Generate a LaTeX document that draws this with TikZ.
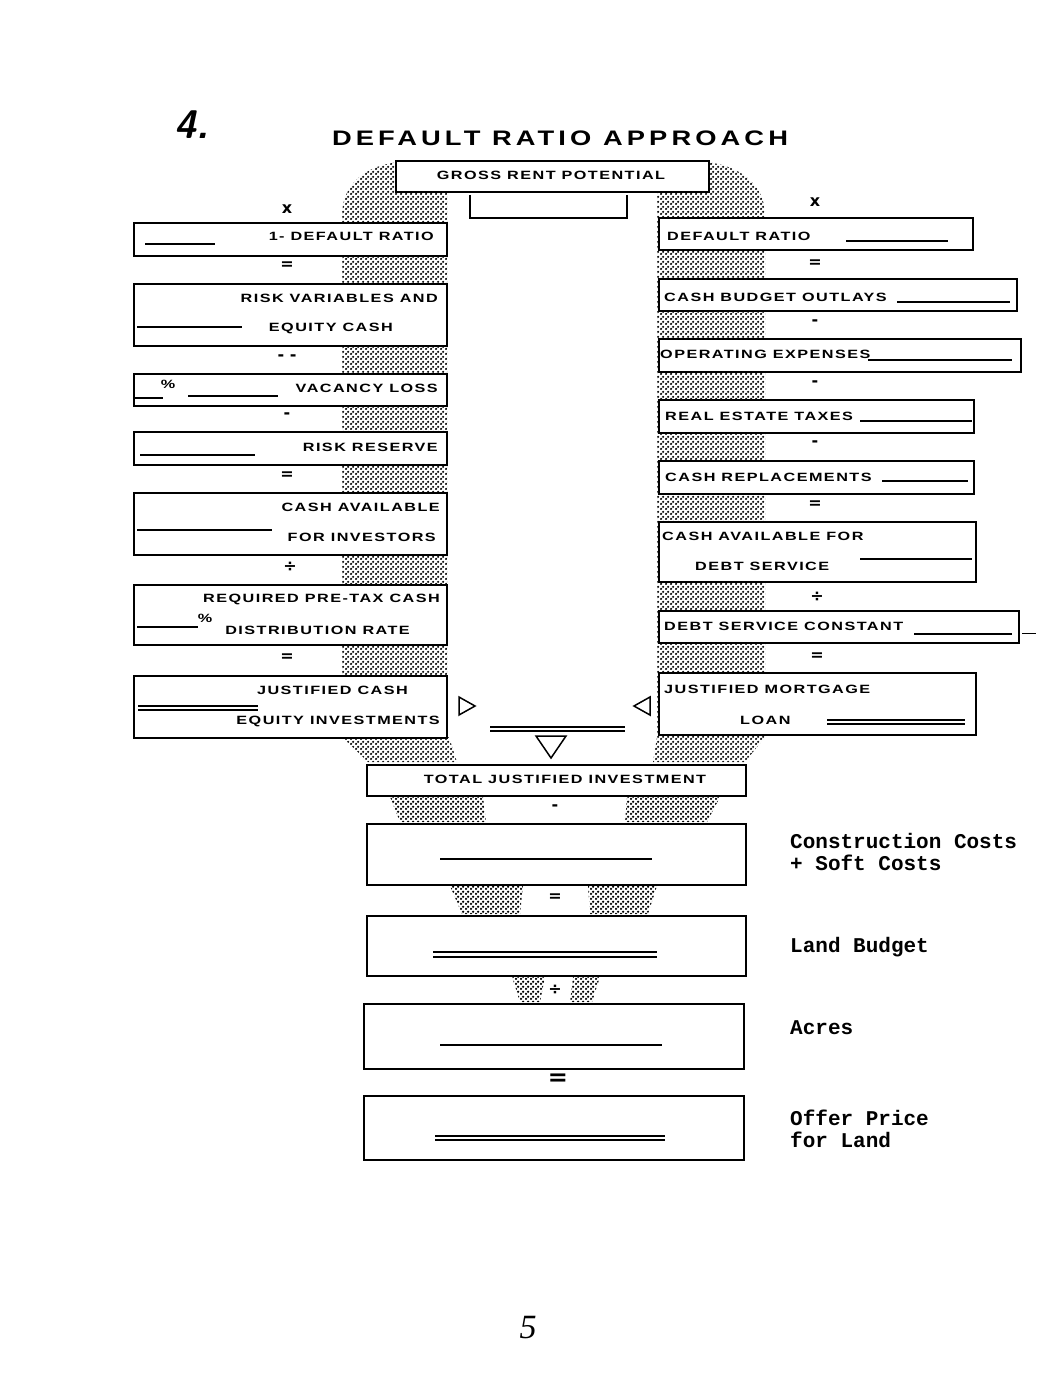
\documentclass[tikz,border=0pt]{standalone}
\usepackage{fontspec}
\usepackage{graphicx}
\setmainfont{Liberation Serif}
\usetikzlibrary{patterns.meta}
\newfontfamily\boxfont{Liberation Sans}[LetterSpace=9]
\newfontfamily\titlefont{Liberation Sans}[LetterSpace=15]
\newfontfamily\typefont{Liberation Mono}
\newfontfamily\opfont{DejaVu Sans}
\newcommand{\bt}[1]{\scalebox{1.35}[1]{\boxfont\bfseries\fontsize{12}{13}\selectfont #1}}
\tikzdeclarepattern{
  name=stip, type=uncolored,
  bounding box={(0pt,0pt) and (5pt,5pt)},
  tile size={(5pt,5pt)},
  code={\fill (1.25pt,1.25pt) circle (1.45pt); \fill (3.75pt,3.75pt) circle (1.45pt);}
}
\tikzset{
  bx/.style={draw=black, line width=2pt, fill=white, anchor=north west, inner sep=0pt},
  lab/.style={inner sep=0pt},
  op/.style={font=\opfont\bfseries\fontsize{16}{18}\selectfont, inner sep=0pt},
  side/.style={font=\typefont\bfseries\fontsize{21}{22}\selectfont, inner sep=0pt, anchor=west, align=left},
  blank/.style={line width=1.6pt},
  stipple/.style={pattern={stip}, pattern color=black}
}
\begin{document}
\begin{tikzpicture}[x=1pt,y=-1pt]
\fill[white] (0,0) rectangle (1064,1380);
\useasboundingbox (0,0) rectangle (1064,1380);

% stippled funnel
\path[stipple] (400,162) .. controls (365,165) and (342,185) .. (342,215) -- (342,737) -- (368,762) -- (457,762) -- (449,737) -- (447,737) -- (447,162) -- cycle;
\path[stipple] (705,162) .. controls (740,165) and (765,185) .. (765,215) -- (765,737) -- (745,762) -- (653,762) -- (657,737) -- (657,162) -- cycle;
\path[stipple] (390,797) -- (483,797) -- (486,822) -- (400,822) -- cycle;
\path[stipple] (627,797) -- (720,797) -- (707,822) -- (625,822) -- cycle;
\path[stipple] (450,886) -- (523,886) -- (520,914) -- (462,914) -- cycle;
\path[stipple] (588,886) -- (657,886) -- (648,914) -- (590,914) -- cycle;
\path[stipple] (512,977) -- (545,977) -- (540,1002) -- (520,1002) -- cycle;
\path[stipple] (573,977) -- (600,977) -- (592,1002) -- (570,1002) -- cycle;

% heading
\node[font=\sffamily\itshape\bfseries\fontsize{40}{40}\selectfont, inner sep=0pt] (num) at (192,125) {4.};
\node[inner sep=0pt] (title) at (560,138) {\scalebox{1.3}[1]{\titlefont\bfseries\fontsize{21}{24}\selectfont DEFAULT RATIO APPROACH}};

% gross rent
\node[bx, minimum width=313pt, minimum height=31pt] (gr) at (395,160) {};
\node[lab] (grt) at (551,175) {\bt{GROSS RENT POTENTIAL}};
\draw[line width=1.6pt] (470,195) -- (470,218) -- (627,218) -- (627,195);

% ---------- left column ----------
\node[op] (lx) at (287,209) {x};
\node[bx, minimum width=313pt, minimum height=33pt] (L1) at (133,222) {};
\node[lab, anchor=east] (L1t) at (434,236) {\bt{1- DEFAULT RATIO}};
\draw[blank] (145,244) -- (215,244);
\node[op] (le1) at (287,266) {=};
\node[bx, minimum width=313pt, minimum height=62pt] (L2) at (133,283) {};
\node[lab, anchor=east] (L2a) at (438,298) {\bt{RISK VARIABLES AND}};
\node[lab, anchor=east] (L2b) at (393,328) {\bt{EQUITY CASH}};
\draw[blank] (137,327) -- (242,327);
\node[op] (lm1) at (287,358) {- -};
\node[bx, minimum width=313pt, minimum height=32pt] (L3) at (133,373) {};
\node[lab, anchor=east] (L3t) at (438,388) {\bt{VACANCY LOSS}};
\node[lab] (L3p) at (168,384) {\bt{\%}};
\draw[blank] (135,398) -- (163,398);
\draw[blank] (188,396) -- (278,396);
\node[op] (lm2) at (287,416) {-};
\node[bx, minimum width=313pt, minimum height=33pt] (L4) at (133,431) {};
\node[lab, anchor=east] (L4t) at (438,447) {\bt{RISK RESERVE}};
\draw[blank] (140,455) -- (255,455);
\node[op] (le2) at (287,476) {=};
\node[bx, minimum width=313pt, minimum height=62pt] (L5) at (133,492) {};
\node[lab, anchor=east] (L5a) at (440,507) {\bt{CASH AVAILABLE}};
\node[lab, anchor=east] (L5b) at (436,537) {\bt{FOR INVESTORS}};
\draw[blank] (137,530) -- (272,530);
\node[op] (ld1) at (290,567) {÷};
\node[bx, minimum width=313pt, minimum height=60pt] (L6) at (133,584) {};
\node[lab, anchor=east] (L6a) at (440,599) {\bt{REQUIRED PRE-TAX CASH}};
\node[lab] (L6p) at (205,618) {\bt{\%}};
\node[lab, anchor=east] (L6b) at (410,630) {\bt{DISTRIBUTION RATE}};
\draw[blank] (137,627) -- (198,627);
\node[op] (le3) at (287,658) {=};
\node[bx, minimum width=313pt, minimum height=62pt] (L7) at (133,675) {};
\node[lab, anchor=east] (L7a) at (408,690) {\bt{JUSTIFIED CASH}};
\node[lab, anchor=east] (L7b) at (440,721) {\bt{EQUITY INVESTMENTS}};
\draw[line width=1.2pt] (138,706) -- (258,706);
\draw[line width=1.2pt] (138,710) -- (258,710);

% ---------- right column ----------
\node[op] (rx) at (815,202) {x};
\node[bx, minimum width=314pt, minimum height=32pt] (R1) at (658,217) {};
\node[lab, anchor=west] (R1t) at (667,236) {\bt{DEFAULT RATIO}};
\draw[blank] (846,241) -- (948,241);
\node[op] (re1) at (815,264) {=};
\node[bx, minimum width=358pt, minimum height=32pt] (R2) at (658,278) {};
\node[lab, anchor=west] (R2t) at (664,297) {\bt{CASH BUDGET OUTLAYS}};
\draw[blank] (897,302) -- (1010,302);
\node[op] (rm1) at (815,323) {-};
\node[bx, minimum width=362pt, minimum height=33pt] (R3) at (658,338) {};
\node[lab, anchor=west] (R3t) at (660,354) {\bt{OPERATING EXPENSES}};
\draw[blank] (868,360) -- (1012,360);
\node[op] (rm2) at (815,384) {-};
\node[bx, minimum width=315pt, minimum height=33pt] (R4) at (658,399) {};
\node[lab, anchor=west] (R4t) at (665,416) {\bt{REAL ESTATE TAXES}};
\draw[blank] (860,421) -- (972,421);
\node[op] (rm3) at (815,444) {-};
\node[bx, minimum width=315pt, minimum height=33pt] (R5) at (658,460) {};
\node[lab, anchor=west] (R5t) at (665,477) {\bt{CASH REPLACEMENTS}};
\draw[blank] (882,481) -- (968,481);
\node[op] (re2) at (815,505) {=};
\node[bx, minimum width=317pt, minimum height=60pt] (R6) at (658,521) {};
\node[lab, anchor=west] (R6a) at (662,536) {\bt{CASH AVAILABLE FOR}};
\node[lab, anchor=west] (R6b) at (695,566) {\bt{DEBT SERVICE}};
\draw[blank] (860,559) -- (972,559);
\node[op] (rd1) at (817,597) {÷};
\node[bx, minimum width=360pt, minimum height=32pt] (R7) at (658,610) {};
\node[lab, anchor=west] (R7t) at (664,626) {\bt{DEBT SERVICE CONSTANT}};
\draw[blank] (914,634) -- (1012,634);
\draw[line width=1pt] (1022,633) -- (1036,633);
\node[op] (re3) at (817,657) {=};
\node[bx, minimum width=317pt, minimum height=62pt] (R8) at (658,672) {};
\node[lab, anchor=west] (R8a) at (664,689) {\bt{JUSTIFIED MORTGAGE}};
\node[lab, anchor=west] (R8b) at (740,720) {\bt{LOAN}};
\draw[line width=1.2pt] (827,720) -- (965,720);
\draw[line width=1.2pt] (827,724) -- (965,724);

% ---------- centre ----------
\draw[line width=1.5pt] (459,697) -- (475,706) -- (459,715) -- cycle;
\draw[line width=1.5pt] (650,697) -- (634,706) -- (650,715) -- cycle;
\draw[line width=1.2pt] (490,727) -- (625,727);
\draw[line width=1.2pt] (490,731) -- (625,731);
\draw[line width=1.5pt] (536,736) -- (566,736) -- (551,758) -- cycle;

\node[bx, minimum width=379pt, minimum height=31pt] (T) at (366,764) {};
\node[lab] (Tt) at (565,779) {\bt{TOTAL JUSTIFIED INVESTMENT}};
\node[op] (bm) at (555,808) {-};
\node[bx, minimum width=379pt, minimum height=61pt] (B1) at (366,823) {};
\draw[blank] (440,859) -- (652,859);
\node[op] (be) at (555,898) {=};
\node[bx, minimum width=379pt, minimum height=60pt] (B2) at (366,915) {};
\draw[line width=1.4pt] (433,952) -- (657,952);
\draw[line width=1.4pt] (433,957) -- (657,957);
\node[op] (bd) at (555,990) {÷};
\node[bx, minimum width=380pt, minimum height=65pt] (B3) at (363,1003) {};
\draw[line width=1.3pt] (440,1045) -- (662,1045);
\node[op, font=\opfont\bfseries\fontsize{24}{24}\selectfont] (be2) at (558,1080) {=};
\node[bx, minimum width=380pt, minimum height=64pt] (B4) at (363,1095) {};
\draw[line width=1.3pt] (435,1136) -- (665,1136);
\draw[line width=1.3pt] (435,1140) -- (665,1140);

% side labels
\node[side] (s1) at (790,852) {Construction Costs\\+ Soft Costs};
\node[side] (s2) at (790,947) {Land Budget};
\node[side] (s3) at (790,1028) {Acres};
\node[side] (s4) at (790,1129) {Offer Price\\for Land};

% page number
\node[font=\itshape\fontsize{34}{34}\selectfont, inner sep=0pt] (pg) at (528,1328) {5};
\end{tikzpicture}
\end{document}
